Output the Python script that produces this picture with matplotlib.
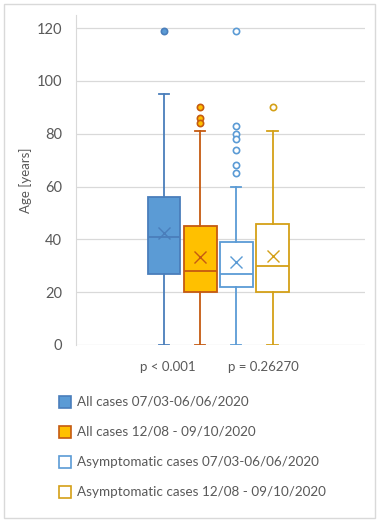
import matplotlib.pyplot as plt
from matplotlib.patches import Rectangle

# box statistics (age in years)
series = ['All cases 07/03-06/06/2020', 'All cases 12/08 - 09/10/2020',
          'Asymptomatic cases 07/03-06/06/2020', 'Asymptomatic cases 12/08 - 09/10/2020']
q1 = [27, 20, 22, 20]
med = [41, 28, 27, 30]
q3 = [56, 45, 39, 46]
mean = [42.5, 33.2, 31.6, 33.7]
wlo = [0, 0, 0, 0]
whi = [95, 81, 60, 81]
fliers = [[119], [90, 86, 84], [119, 83, 80, 78, 74, 68, 65], [90]]
p_labels = ['p < 0.001', 'p = 0.26270']

faces = ['#5B9BD5', '#FFC000', 'white', 'white']
edges = ['#4A7EBB', '#C55A11', '#5B9BD5', '#D4A017']
filled = [True, True, False, False]

plt.rcParams['font.family'] = ['Lato', 'DejaVu Sans']
grey = '#595959'

fig = plt.figure(figsize=(3.79, 5.25), dpi=100)
ax = fig.add_axes([76/379, 180/525, 289/379, 330/525])

stats = []
for i in range(4):
    stats.append(dict(med=med[i], q1=q1[i], q3=q3[i], whislo=wlo[i], whishi=whi[i],
                      mean=mean[i], fliers=fliers[i], label=series[i]))

pos = [1, 2, 3, 4]
for i in range(4):
    ax.bxp([stats[i]], positions=[pos[i]], widths=0.9, patch_artist=True,
           showmeans=True, showfliers=True,
           boxprops=dict(facecolor=faces[i], edgecolor=edges[i], linewidth=1.3),
           medianprops=dict(color=edges[i], linewidth=1.3),
           whiskerprops=dict(color=edges[i], linewidth=1.3),
           capprops=dict(color=edges[i], linewidth=1.3),
           capwidths=0.28,
           meanprops=dict(marker='x', markeredgecolor=edges[i], markersize=9, markeredgewidth=1),
           flierprops=dict(marker='o', markersize=4.5,
                           markerfacecolor=faces[i] if filled[i] else 'white',
                           markeredgecolor=edges[i], markeredgewidth=1.2))

ax.set_xlim(-1.44, 6.56)
ax.set_ylim(0, 125)
ax.set_yticks(range(0, 121, 20))
ax.set_xticks([])
ax.grid(axis='y', color='#D9D9D9', linewidth=0.9)
ax.set_axisbelow(True)
for s in ['top', 'right', 'bottom']:
    ax.spines[s].set_visible(False)
ax.spines['left'].set_color('#D9D9D9')
ax.tick_params(axis='y', length=0, pad=10, labelsize=10.5, labelcolor=grey)
ax.set_ylabel('Age [years]', fontsize=9.5, color=grey, labelpad=3)

# p-value labels below the axis
ax.text(1.1, -6, p_labels[0], ha='center', va='top', fontsize=9.5, color=grey)
ax.text(3.75, -6, p_labels[1], ha='center', va='top', fontsize=9.5, color=grey)

# legend
for i in range(4):
    y = 1 - (402 + 30 * i) / 525
    fig.patches.append(Rectangle((59/379, y - 6/525), 12/379, 12/525, transform=fig.transFigure,
                                 facecolor=faces[i], edgecolor=edges[i], linewidth=1.2))
    fig.text(77/379, y, series[i], va='center', ha='left', fontsize=9.7, color=grey)

# chart border
fig.patches.append(Rectangle((4/379, 7/525), 371/379, 514/525, transform=fig.transFigure,
                             facecolor='none', edgecolor='#D9D9D9', linewidth=1))

fig.savefig('out.png', dpi=100)
